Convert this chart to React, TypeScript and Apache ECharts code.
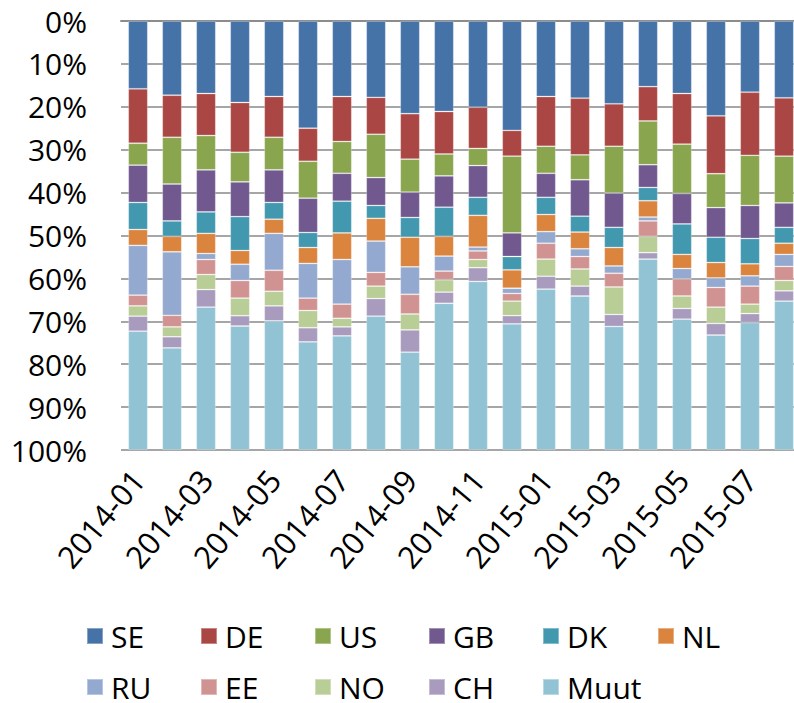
import React, { useEffect, useRef } from "react";
import * as echarts from "echarts";

const months = [
  "2014-01", "2014-02", "2014-03", "2014-04", "2014-05", "2014-06", "2014-07", "2014-08", "2014-09", "2014-10",
  "2014-11", "2014-12", "2015-01", "2015-02", "2015-03", "2015-04", "2015-05", "2015-06", "2015-07", "2015-08",
];

const SE = [15.8, 17.3, 16.9, 19.0, 17.6, 25.0, 17.6, 17.8, 21.6, 21.1, 20.1, 25.5, 17.6, 18.0, 19.3, 15.3, 16.9, 22.1, 16.6, 17.9];
const DE = [12.7, 9.8, 9.8, 11.6, 9.5, 7.7, 10.5, 8.6, 10.6, 9.9, 9.6, 6.0, 11.6, 13.2, 9.9, 8.0, 11.8, 13.5, 14.7, 13.6];
const US = [5.1, 10.9, 8.0, 6.9, 7.6, 8.6, 7.4, 10.1, 7.7, 5.1, 4.0, 17.9, 6.3, 5.8, 10.9, 10.2, 11.5, 7.9, 11.7, 10.9];
const GB = [8.7, 8.6, 9.8, 8.1, 7.6, 8.0, 6.5, 6.5, 5.9, 7.3, 7.4, 5.5, 5.6, 8.5, 8.0, 5.3, 7.1, 6.9, 7.7, 5.7];
const DK = [6.3, 3.6, 5.0, 7.9, 3.9, 3.5, 7.4, 3.0, 4.6, 6.8, 4.2, 3.1, 4.0, 3.7, 4.7, 3.1, 7.1, 5.9, 5.9, 3.7];
const NL = [3.7, 3.6, 4.7, 3.2, 3.3, 3.7, 6.2, 5.3, 6.9, 4.6, 7.4, 4.3, 4.0, 3.9, 4.3, 3.8, 3.3, 3.6, 2.8, 2.6];
const RU = [11.6, 14.8, 1.4, 3.8, 8.6, 8.1, 10.4, 7.3, 6.4, 3.5, 0.9, 1.2, 2.7, 1.8, 1.7, 0.9, 2.4, 2.2, 2.4, 2.8];
const EE = [2.5, 2.7, 3.5, 4.1, 4.9, 2.9, 3.3, 3.2, 4.6, 2.0, 2.0, 1.8, 3.7, 2.9, 3.2, 3.6, 4.0, 4.6, 4.2, 3.3];
const NO = [2.4, 2.3, 3.5, 4.1, 3.4, 4.0, 2.0, 2.9, 3.7, 2.9, 1.9, 3.4, 4.0, 4.0, 6.4, 3.8, 2.9, 3.8, 2.2, 2.4];
const CH = [3.5, 2.6, 4.1, 2.4, 3.5, 3.3, 2.1, 4.1, 5.2, 2.6, 3.2, 1.9, 3.0, 2.3, 2.8, 1.5, 2.5, 2.7, 2.1, 2.4];
const Muut = [27.7, 23.8, 33.3, 28.9, 30.1, 25.2, 26.6, 31.2, 22.8, 34.2, 39.3, 29.4, 37.5, 35.9, 28.8, 44.5, 30.5, 26.8, 29.7, 34.7];

const seriesNames = ["SE", "DE", "US", "GB", "DK", "NL", "RU", "EE", "NO", "CH", "Muut"];
const seriesValues = [SE, DE, US, GB, DK, NL, RU, EE, NO, CH, Muut];
const colors = [
  "#4572A7", "#AA4643", "#89A54E", "#71588F", "#4198AF", "#DB843D",
  "#93A9CF", "#D19392", "#B9CD96", "#A99BBD", "#92C3D4",
];

const FONT = "'Open Sans', 'Noto Sans', sans-serif";

export default function App() {
  const ref = useRef<HTMLDivElement>(null);

  useEffect(() => {
    if (!ref.current) return;
    const chart = echarts.init(ref.current, undefined, { renderer: "svg" });

    const colLefts = [86, 200, 314, 428, 542, 657];
    const rowTops = [621, 672];
    const legends = seriesNames.map((name, i) => ({
      data: [name],
      left: colLefts[i % 6],
      top: rowTops[Math.floor(i / 6)],
      padding: 0,
      itemWidth: 16,
      itemHeight: 16,
      itemGap: 0,
      icon: "rect",
      selectedMode: false,
      textStyle: { fontSize: 30, lineHeight: 22, color: "#000", fontFamily: FONT, padding: [0, 0, 0, 3] },
    }));

    chart.setOption({
      animation: false,
      color: colors,
      textStyle: { fontFamily: FONT },
      grid: { left: 121, right: -7, top: 21, bottom: 253, containLabel: false, outerBoundsMode: "none" },
      legend: legends,
      xAxis: {
        type: "category",
        data: months,
        axisLine: { show: true, lineStyle: { color: "#8c8c8c", width: 2 } },
        axisTick: { show: false },
        axisLabel: {
          interval: 1,
          rotate: 50,
          margin: 24,
          fontSize: 31,
          color: "#000",
          fontFamily: FONT,
        },
      },
      yAxis: {
        type: "value",
        inverse: true,
        min: 0,
        max: 100,
        interval: 10,
        axisLine: { show: false },
        axisTick: { show: false },
        splitLine: { show: true, lineStyle: { color: "#888888", width: 1.5 } },
        axisLabel: {
          formatter: "{value}%",
          margin: 34,
          fontSize: 30,
          color: "#000",
          fontFamily: FONT,
        },
      },
      series: seriesNames.map((name, i) => ({
        name,
        type: "bar",
        stack: "total",
        barWidth: 19.5,
        data: seriesValues[i],
        itemStyle: { color: colors[i], borderColor: "rgba(255,255,255,0.35)", borderWidth: 0.8 },
      })),
    });

    return () => chart.dispose();
  }, []);

  return (
    <div
      ref={ref}
      style={{ position: "absolute", left: 0, top: 0, width: 794, height: 703, background: "#fff" }}
    />
  );
}
